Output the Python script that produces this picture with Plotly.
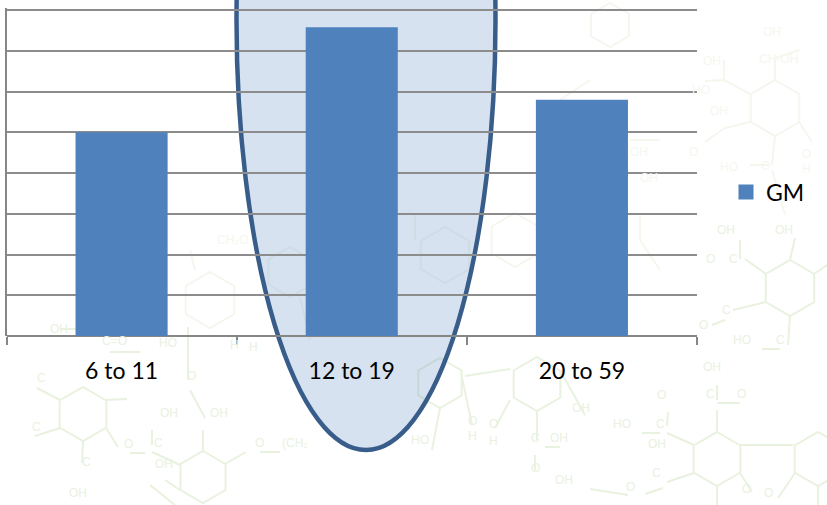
import math
import plotly.graph_objects as go

W, H = 827, 505

# Chart data
age_groups = ["6 to 11", "12 to 19", "20 to 59"]
gm_values = [5.0, 7.58, 5.8]
series_name = "GM"

BAR = "#4F81BD"
GRID = "#8C8C8C"
AXIS = "#868686"
OUTLINE = "#385D8A"
HIGHLIGHT = "rgba(79,129,189,0.23)"
MOTIF_STRONG = "#E9F1DF"
MOTIF_SOFT = "#F5F7EF"


def fx(x):
    return x / W


def fy(y):
    return 1 - y / H


def path(points, closed=False):
    d = "M " + " L ".join(f"{fx(x):.5f},{fy(y):.5f}" for x, y in points)
    return d + (" Z" if closed else "")


def hexagon(cx, cy, r):
    return [(cx + r * math.sin(i * math.pi / 3), cy - r * math.cos(i * math.pi / 3)) for i in range(6)]


# Decorative molecule motif on the page background
rings_strong = [(83, 414, 27), (203, 477, 26), (537, 384, 27), (440, 383, 25),
                (717, 459, 27), (818, 459, 27), (790, 288, 28)]
rings_soft = [(775, 108, 28), (210, 300, 28), (290, 272, 25), (445, 255, 28), (515, 240, 27), (610, 25, 22)]

bonds_strong = [
    [(60, 400), (37, 388)], [(60, 428), (35, 436)], [(83, 441), (82, 463)], [(106, 400), (127, 399)],
    [(106, 428), (118, 447)], [(130, 453), (145, 453)], [(152, 452), (180, 465)], [(152, 445), (152, 430)],
    [(203, 451), (203, 430)], [(225, 464), (246, 452)], [(260, 452), (280, 452)], [(180, 490), (165, 480)],
    [(188, 327), (188, 380)], [(190, 390), (205, 418)], [(110, 352), (140, 352)], [(60, 329), (82, 329)],
    [(560, 370), (585, 415)], [(537, 411), (537, 440)], [(545, 447), (560, 447)], [(535, 455), (535, 470)],
    [(510, 369), (465, 376)], [(461, 373), (472, 425)], [(510, 400), (495, 428)], [(440, 408), (432, 450)],
    [(717, 432), (717, 410)], [(717, 403), (740, 403)], [(717, 400), (717, 385)], [(642, 433), (660, 433)],
    [(667, 433), (694, 445)], [(667, 426), (668, 412)], [(667, 482), (694, 473)], [(663, 488), (645, 494)],
    [(590, 489), (628, 495)], [(740, 445), (793, 445)], [(740, 473), (752, 492)], [(795, 473), (778, 498)],
    [(717, 486), (717, 505)], [(818, 486), (818, 505)], [(762, 349), (780, 349)], [(790, 316), (788, 345)],
    [(766, 274), (745, 259)], [(814, 274), (827, 265)], [(790, 260), (795, 238)], [(740, 259), (740, 240)],
    [(733, 310), (766, 302)], [(725, 320), (712, 325)], [(150, 485), (175, 505)],
]
bonds_soft = [
    [(775, 80), (775, 58)], [(775, 58), (800, 50)], [(750, 94), (724, 80)], [(724, 80), (705, 81)],
    [(724, 80), (724, 60)], [(750, 122), (725, 128)], [(725, 128), (705, 142)], [(799, 122), (812, 142)],
    [(775, 136), (772, 165)], [(750, 165), (770, 165)], [(772, 170), (785, 215)],
    [(415, 240), (415, 215)], [(300, 297), (310, 340)], [(190, 250), (195, 270)], [(630, 140), (660, 140)],
    [(560, 100), (590, 80)], [(640, 215), (640, 240)], [(640, 240), (660, 270)],
]
labels_strong = [
    ("OH", 48, 329), ("C", 35, 387), ("C", 30, 436), ("C", 80, 471), ("O", 122, 453), ("C", 152, 452),
    ("OH", 158, 422), ("OH", 208, 422), ("O", 253, 452), ("(CH₂", 295, 452), ("OH", 153, 473), ("OH", 67, 502),
    ("C=O", 100, 350), ("HO", 157, 352), ("O", 185, 385), ("H", 228, 354), ("H", 247, 356),
    ("OH", 592, 417), ("C", 535, 447), ("OH", 570, 447), ("O", 535, 477), ("O", 473, 430), ("H", 473, 445),
    ("O", 493, 433), ("H", 493, 450), ("OH", 723, 376), ("C", 717, 403), ("O", 748, 403), ("HO", 633, 433),
    ("C", 667, 433), ("O", 668, 404), ("OH", 668, 453), ("C", 663, 482), ("OH", 575, 489), ("O", 637, 496),
    ("O", 753, 498), ("O", 775, 502), ("O", 710, 325), ("C", 733, 310), ("HO", 753, 349), ("C", 787, 349),
    ("OH", 737, 230), ("OH", 795, 230), ("O", 717, 259), ("C", 740, 259), ("HO", 420, 449),
]
labels_soft = [
    ("OH", 783, 23), ("CH-OH", 800, 50), ("OH", 723, 52), ("HO", 712, 81), ("OH", 730, 102), ("O", 700, 143),
    ("O", 813, 145), ("H", 813, 160), ("HO", 740, 158), ("C", 772, 157), ("CH₂O", 215, 240), ("OH", 660, 178),
    ("OH", 650, 143),
]

shapes = []

for rings, bonds, tone in [(rings_strong, bonds_strong, MOTIF_STRONG), (rings_soft, bonds_soft, MOTIF_SOFT)]:
    d = " ".join(path(hexagon(*r), closed=True) for r in rings)
    d += " " + " ".join(path(b) for b in bonds)
    shapes.append(dict(type="path", xref="paper", yref="paper", path=d, layer="below",
                       line=dict(color=tone, width=2), fillcolor="rgba(0,0,0,0)"))

# Highlight ellipse: the fill sits beneath the gridlines, the outline above them
ellipse_box = dict(type="circle", xref="paper", yref="paper",
                   x0=fx(236.5), x1=fx(495.5), y0=fy(-410), y1=fy(450))
shapes.append(dict(**ellipse_box, layer="below", fillcolor=HIGHLIGHT, line=dict(width=0)))
shapes.append(dict(**ellipse_box, layer="between", fillcolor="rgba(0,0,0,0)", line=dict(color=OUTLINE, width=4.5)))

annotations = [
    dict(text=t, x=fx(x), y=fy(y), xref="paper", yref="paper", showarrow=False,
         font=dict(family="Liberation Sans", size=12, color=tone))
    for group, tone in [(labels_strong, MOTIF_STRONG), (labels_soft, MOTIF_SOFT)]
    for t, x, y in group
]

fig = go.Figure()
fig.add_bar(x=age_groups, y=gm_values, name=series_name, width=0.4,
            marker=dict(color=BAR, line=dict(width=0)), showlegend=False)
# Legend entry with the larger square swatch
fig.add_scatter(x=[None], y=[None], name=series_name, mode="markers",
                marker=dict(symbol="square", size=15, color=BAR), showlegend=True)

fig.update_layout(
    width=W, height=H, autosize=False,
    margin=dict(l=0, r=0, t=0, b=0),
    paper_bgcolor="white", plot_bgcolor="rgba(0,0,0,0)",
    font=dict(family="Lato", size=23, color="black"),
    shapes=shapes, annotations=annotations,
    legend=dict(x=fx(726), y=fy(192), xanchor="left", yanchor="middle",
                bgcolor="rgba(0,0,0,0)", itemwidth=30, font=dict(size=23)),
    xaxis=dict(domain=[fx(6.5), fx(697)], range=[-0.5, 2.5], type="category",
               tickson="boundaries", ticks="outside", ticklen=8, tickwidth=1.5, tickcolor=AXIS,
               showline=False, showgrid=False,
               ticklabelstandoff=19, tickfont=dict(family="Lato", size=23)),
    # The slight headroom above 8 keeps the top gridline from being clipped at the axis end
    yaxis=dict(domain=[fy(336), fy(8)], range=[0, 8.05], dtick=1,
               showgrid=True, gridcolor=GRID, gridwidth=2,
               zeroline=True, zerolinecolor=AXIS, zerolinewidth=2,
               showline=True, linecolor=AXIS, linewidth=2, showticklabels=False, ticks=""),
)

fig.write_html("out.html")
